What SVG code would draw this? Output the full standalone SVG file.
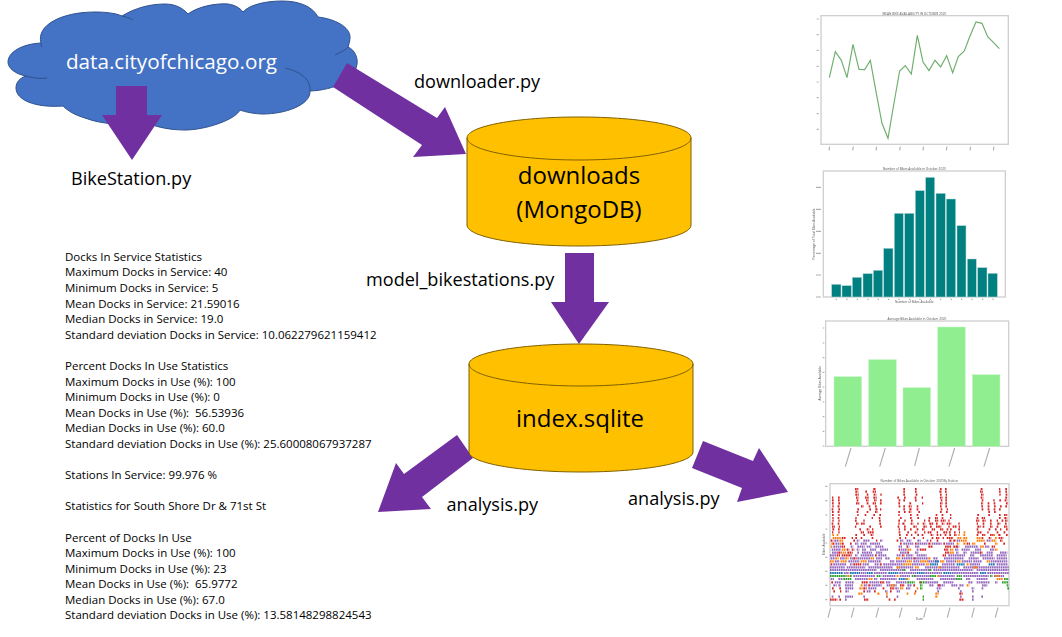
<svg xmlns="http://www.w3.org/2000/svg" width="1062" height="637" viewBox="0 0 1062 637">
<defs>
<filter id="soft" x="-5%" y="-5%" width="110%" height="110%"><feGaussianBlur stdDeviation="2.2"/></filter>
</defs>
<style>
text{font-family:"Open Sans","Noto Sans",sans-serif;fill:#000}
.b{font-size:11.5px}
.l{font-size:18.1px}
.c{font-size:24px;text-anchor:middle}
.ar{fill:#7030a0}
.cy{fill:#ffc000;stroke:#7f6000;stroke-width:1}
.fr{fill:none;stroke:#cfcfcf;stroke-width:4}
.t{font-size:9.5px;text-anchor:middle;fill:#555}
.s{stroke:#b0b0b0;stroke-width:3.5;fill:none}
.r,.p,.o,.g,.u{fill:none;stroke-width:6.5;stroke-dasharray:5 1.6}
.r{stroke:#d62728}.p{stroke:#9467bd}.o{stroke:#ff7f0e}.g{stroke:#2ca02c}.u{stroke:#1f77b4}
</style>
<rect width="1062" height="637" fill="#fff"/>
<g id="cloud">
<path d="M41 43C36 25 62 12 95 12C105 12 115 13 122 16C135 8 150 4 165 4C175 4 183 8 188 14C197 7 215 3 228 4C235 5 240 8 243 12C250 4 268 1 282 1C300 1 313 7 318 17C335 19 350 27 350 37C350 41 349 44 348 47C355 50 358 58 357 64C355 80 335 90 310 91C311 105 285 114 263 114C255 114 245 112 240 110C235 120 205 130 185 130C170 130 157 127 150 124C125 126 100 124 85 118C75 115 68 111 63 106C35 108 16 100 16 88C16 82 20 78 26 76C15 74 8 68 8 62C8 52 22 44 41 43Z" fill="#4472c4" stroke="#2f528f" stroke-width="1"/>
<path d="M122 16C126 17 130 18 133 20M26 76C32 78 40 79 47 78M285 68C298 71 311 78 310 91M335 55C341 52 346 50 348 47M41 43C41 44 41 46 42 47" fill="none" stroke="#2f528f" stroke-width="1"/>
<text x="171.5" y="69" text-anchor="middle" style="font-size:20.7px;fill:#fff">data.cityofchicago.org</text>
</g>
<g id="connectors">
<polygon class="ar" points="116,86 147,86 147,115 162,115 132,160 102,115 116,115"/>
<polygon class="ar" points="347,63 437,118 445,107 466,154 413,157 422,145 333,87"/>
<polygon class="ar" points="565,253 594,253 594,302 609,302 579,344 551,302 565,302"/>
<polygon class="ar" points="457,435 473,458 422,497 431,509 378,512 396,463 404,474"/>
<polygon class="ar" points="703,441 753,461 759,448 788,492 737,502 742,488 692,468"/>
</g>
<g id="downloads">
<path class="cy" d="M467 138C467 126 517 117 579 117C641 117 691 126 691 138V225C691 237 641 246 579 246C517 246 467 237 467 225Z"/>
<path class="cy" style="fill:none" d="M467 138C467 150 517 160 579 160C641 160 691 150 691 138"/>
<text class="c" x="579" y="184">downloads</text>
<text class="c" x="579" y="218">(MongoDB)</text>
</g>
<g id="sqlite">
<path class="cy" d="M469 364C469 353 519 344 581 344C643 344 693 353 693 364V452C693 463 643 472 581 472C519 472 469 463 469 452Z"/>
<path class="cy" style="fill:none" d="M469 364C469 376 519 386 581 386C643 386 693 376 693 364"/>
<text class="c" x="580" y="427">index.sqlite</text>
</g>
<g id="labels">
<text class="l" x="71" y="185">BikeStation.py</text>
<text class="l" x="414" y="88">downloader.py</text>
<text class="l" x="366" y="286">model_bikestations.py</text>
<text class="l" x="446.5" y="511">analysis.py</text>
<text class="l" x="628" y="505">analysis.py</text>
</g>
<g id="stats">
<text class="b" x="65" y="261">Docks In Service Statistics</text>
<text class="b" x="65" y="276">Maximum Docks in Service: 40</text>
<text class="b" x="65" y="292">Minimum Docks in Service: 5</text>
<text class="b" x="65" y="308">Mean Docks in Service: 21.59016</text>
<text class="b" x="65" y="323">Median Docks in Service: 19.0</text>
<text class="b" x="65" y="339">Standard deviation Docks in Service: 10.062279621159412</text>
<text class="b" x="65" y="370">Percent Docks In Use Statistics</text>
<text class="b" x="65" y="386">Maximum Docks in Use (%): 100</text>
<text class="b" x="65" y="401">Minimum Docks in Use (%): 0</text>
<text class="b" x="65" y="417" xml:space="preserve">Mean Docks in Use (%):  56.53936</text>
<text class="b" x="65" y="432">Median Docks in Use (%): 60.0</text>
<text class="b" x="65" y="448">Standard deviation Docks in Use (%): 25.60008067937287</text>
<text class="b" x="65" y="479">Stations In Service: 99.976 %</text>
<text class="b" x="65" y="510">Statistics for South Shore Dr &amp; 71st St</text>
<text class="b" x="65" y="542">Percent of Docks In Use</text>
<text class="b" x="65" y="557">Maximum Docks in Use (%): 100</text>
<text class="b" x="65" y="573">Minimum Docks in Use (%): 23</text>
<text class="b" x="65" y="588" xml:space="preserve">Mean Docks in Use (%):  65.9772</text>
<text class="b" x="65" y="604">Median Docks in Use (%): 67.0</text>
<text class="b" x="65" y="619">Standard deviation Docks in Use (%): 13.58148298824543</text>
</g>
<g id="chart-line" transform="translate(800,0) scale(.3333)" filter="url(#soft)">
<rect class="fr" x="63" y="47" width="562" height="386"/>
<text class="t" x="343" y="45">MEAN BIKE AVAILABILITY IN OCTOBER 2020</text>
<polyline fill="none" stroke="#6fae6f" stroke-width="3.5" points="88,233 106,155 124,181 141,233 159,133 177,208 194,209 211,181 229,280 246,370 264,415 281,315 299,213 316,197 334,222 352,106 369,186 387,212 405,181 422,201 440,167 458,218 475,170 493,153 510,108 528,66 546,70 563,110 581,128 598,146"/>
<path class="s" d="M50 57h6M50 104h6M50 151h6M50 199h6M50 246h6M50 293h6M50 341h6M50 388h6M89 440l-2 11M160 440l-2 11M230 440l-2 11M301 440l-2 11M371 440l-2 11M441 440l-2 11M512 440l-2 11M582 440l-2 11"/>
</g>
<g id="chart-hist" transform="translate(800,160) scale(.3333)" filter="url(#soft)">
<rect class="fr" x="70" y="33" width="546" height="378"/>
<text class="t" x="343" y="29">Number of Bikes Available in October 2020</text>
<g fill="#008080" stroke="#b5d8d8" stroke-width="1.5">
<rect x="95" y="373" width="28" height="38"/><rect x="126" y="377" width="28" height="34"/><rect x="157" y="352" width="28" height="59"/><rect x="189" y="341" width="28" height="70"/><rect x="220" y="331" width="28" height="80"/><rect x="251" y="265" width="28" height="146"/><rect x="283" y="160" width="27" height="251"/><rect x="314" y="160" width="28" height="251"/><rect x="346" y="92" width="27" height="319"/><rect x="377" y="52" width="27" height="359"/><rect x="408" y="100" width="28" height="311"/><rect x="439" y="117" width="28" height="294"/><rect x="471" y="197" width="27" height="214"/><rect x="502" y="297" width="27" height="114"/><rect x="533" y="323" width="28" height="88"/><rect x="564" y="340" width="28" height="71"/>
</g>
<path class="s" d="M48 82h15M48 148h15M48 214h15M48 280h15M48 345h15M48 411h15M107 418h4M139 418h4M170 418h4M202 418h4M233 418h4M264 418h4M295 418h4M327 418h4M358 418h4M389 418h4M420 418h4M452 418h4M483 418h4M514 418h4M546 418h4M577 418h4"/>
<text class="t" x="343" y="430">Number of Bikes Available</text>
<text class="t" transform="translate(45,222) rotate(-90)">Percentage of Total Bikes Available</text>
</g>
<g id="chart-bars" transform="translate(800,310) scale(.3333)" filter="url(#soft)">
<rect class="fr" x="77" y="33" width="549" height="376"/>
<text class="t" x="351" y="30">Average Bikes Available in October 2020</text>
<g fill="#90ee90" stroke="#c8f7c8" stroke-width="1.5">
<rect x="102" y="200" width="83" height="209"/><rect x="206" y="149" width="83" height="260"/><rect x="309" y="233" width="83" height="176"/><rect x="413" y="51" width="83" height="358"/><rect x="517" y="194" width="83" height="215"/>
</g>
<path class="s" d="M68 54h5M68 99h5M68 143h5M68 187h5M68 231h5M68 276h5M68 320h5M68 364h5M68 408h5M153 414l-17 56M256 414l-17 56M358 414l-14 54M464 414l-17 56M569 414l-17 56"/>
<text class="t" transform="translate(62,220) rotate(-90)">Average Bikes Available</text>
</g>
<g id="chart-scatter" transform="translate(800,475) scale(.3333)" filter="url(#soft)">
<rect class="fr" x="90" y="26" width="537" height="366"/>
<text class="t" x="358" y="22">Number of Bikes Available in October 2020By Station</text>
<path class="s" d="M76 34h6M76 77h6M76 120h6M76 162h6M76 204h6M76 247h6M76 289h6M76 331h6M76 374h6M92 398l-8 30M162 398l-8 30M236 398l-8 30M306 398l-8 30M379 398l-8 30M450 398l-8 30M523 398l-8 30M594 398l-8 30"/>
<text class="t" x="358" y="436">Date</text>
<text class="t" transform="translate(76,208) rotate(-90)">Bikes Available</text>
<g>
<path class="r" d="M165 42h10M220 42h8M310 42h5M345 42h6M420 42h6M435 42h5M542 42h7M597 42h4M616 42h6"/>
<path class="r" d="M166 50h9M196 50h6M218 50h10M310 50h6M345 50h6M418 50h8M435 50h5M540 50h9M597 50h5M616 50h6"/>
<path class="r" d="M166 59h10M200 59h6M221 59h8M241 59h4M310 59h5M347 59h5M420 59h6M437 59h4M543 59h8M598 59h4M617 59h5"/>
<path class="r" d="M96 68h4M114 68h5M168 68h8M195 68h11M220 68h10M292 68h6M312 68h5M344 68h7M365 68h4M420 68h8M436 68h5M542 68h8M616 68h7"/>
<path class="r" d="M96 76h5M114 76h6M170 76h6M198 76h8M222 76h8M240 76h5M296 76h5M310 76h6M345 76h5M422 76h6M436 76h5M545 76h5M580 76h4M598 76h5M614 76h8"/>
<path class="r" d="M96 85h5M115 85h6M168 85h10M200 85h7M218 85h10M240 85h5M295 85h5M328 85h7M366 85h4M420 85h8M436 85h5M543 85h7M563 85h6M581 85h5M618 85h6"/>
<path class="r" d="M97 94h4M113 94h7M183 94h8M206 94h5M225 94h5M296 94h5M310 94h6M326 94h9M350 94h5M420 94h5M436 94h5M544 94h6M563 94h7M582 94h6M600 94h5M616 94h6"/>
<path class="r" d="M95 103h6M115 103h6M172 103h5M208 103h6M226 103h8M240 103h4M310 103h6M328 103h8M350 103h5M422 103h5M440 103h4M545 103h6M563 103h7M581 103h6M597 103h5"/>
<path class="r" d="M96 111h5M113 111h7M170 111h5M200 111h5M225 111h8M295 111h5M312 111h6M326 111h8M355 111h5M420 111h5M438 111h6M565 111h6M582 111h7"/>
<path class="r" d="M96 120h5M115 120h4M172 120h4M194 120h5M220 120h6M238 120h5M295 120h4M330 120h6M350 120h5M407 120h6M425 120h5M450 120h4M532 120h6M565 120h5M597 120h6M612 120h10"/>
<path class="r" d="M97 129h4M113 129h6M166 129h4M215 129h4M236 129h6M300 129h6M330 129h5M352 129h6M386 129h5M405 129h9M425 129h6M450 129h4M530 129h6M545 129h10M597 129h5M613 129h9"/>
<path class="r" d="M97 137h4M115 137h4M165 137h5M190 137h4M237 137h6M295 137h5M313 137h4M333 137h5M372 137h4M385 137h6M405 137h10M422 137h15M445 137h4M528 137h10M547 137h10M570 137h6M590 137h4M605 137h5M615 137h8"/>
<path class="r" d="M95 146h6M113 146h6M168 146h8M183 146h11M238 146h6M295 146h4M307 146h8M332 146h8M352 146h4M368 146h8M388 146h12M408 146h6M425 146h8M440 146h14M475 146h4M530 146h4M548 146h6M570 146h6M592 146h9M615 146h6"/>
<path class="r" d="M96 155h9M116 155h4M165 155h4M208 155h6M240 155h6M293 155h5M312 155h5M340 155h10M370 155h10M390 155h6M408 155h16M445 155h4M458 155h12M476 155h4M532 155h10M548 155h5M570 155h8M590 155h5M612 155h10"/>
<path class="r" d="M97 163h7M114 163h6M178 163h6M200 163h8M216 163h4M296 163h4M312 163h5M330 163h5M350 163h6M366 163h8M395 163h10M420 163h10M440 163h5M450 163h6M475 163h5M530 163h6M566 163h5M585 163h6M600 163h4M618 163h5"/>
<path class="r" d="M96 172h4M115 172h4M182 172h10M203 172h18M296 172h6M322 172h5M344 172h8M372 172h4M383 172h12M410 172h4M430 172h12M447 172h5M462 172h6M477 172h3M532 172h14M562 172h4M590 172h5M611 172h5"/>
<path class="o" d="M97 180h5M110 180h6M491 172h5M475 180h4M490 180h7M580 180h5"/>
<path class="r" d="M166 180h6M190 180h6M212 180h8M297 180h5M318 180h5M333 180h4M352 180h5M365 180h6M392 180h8M410 180h5M420 180h4M434 180h6M448 180h6M462 180h8M530 180h5M546 180h10M570 180h10M595 180h8M618 180h6"/>
<path class="o" d="M98 189h24M472 189h12M490 189h12M530 189h14M585 189h6"/>
<path class="r" d="M125 189h12M155 189h4M166 189h6M182 189h5M215 189h5M298 189h6M315 189h4M340 189h6M368 189h4M395 189h6M408 189h10M428 189h4M440 189h20M545 189h6M566 189h8M596 189h14"/>
<path class="r" d="M92 197h8M160 197h6M228 197h4M290 197h6M390 197h4M410 197h5M448 197h8M460 197h8M600 197h8"/>
<path class="p" d="M103 197h14M170 197h8M190 197h20M240 197h8M300 197h10M320 197h14M352 197h10M380 197h6M470 197h10M560 197h14"/>
<path class="o" d="M118 197h12M482 197h20M530 197h24M575 197h14"/>
<path class="r" d="M98 206h6M126 206h6M150 206h6M300 206h6M345 206h6M385 206h8M430 206h6M500 206h10M552 206h5M610 206h6"/>
<path class="p" d="M106 206h14M165 206h10M182 206h18M210 206h30M310 206h30M352 206h30M395 206h30M438 206h24"/>
<path class="o" d="M94 206h6M120 206h6M470 206h8M490 206h8M516 206h10M585 206h8"/>
<path class="p" d="M100 215h24M152 215h8M172 215h22M200 215h14M226 215h24M296 215h10M320 215h8M345 215h14M470 215h8M495 215h40M555 215h14"/>
<path class="r" d="M125 215h10M155 224h8M296 224h4M320 215h3M385 215h14M435 215h18M460 215h14M575 215h10"/>
<path class="o" d="M92 215h6M540 215h12"/>
<path class="p" d="M95 224h28M170 224h8M186 224h12M210 224h20M240 224h24M302 224h18M350 224h8M465 224h10M485 224h24M525 224h20M570 224h14"/>
<path class="o" d="M125 224h12M322 224h12M585 224h8M450 224h10"/>
<path class="r" d="M140 224h8M360 224h20M432 224h14"/>
<path class="p" d="M96 233h18M172 233h6M186 233h30M228 233h20M300 233h22M345 233h10M468 233h8M490 233h10M512 233h30M560 233h20M600 233h22"/>
<path class="r" d="M115 233h10M142 233h16M322 233h6M435 233h14M540 233h8"/>
<path class="o" d="M128 233h10M450 233h12"/>
<path class="p" d="M90 241h18M165 241h8M182 241h40M235 241h24M290 241h14M318 241h22M350 241h30M445 241h50M510 241h14M540 241h40M590 241h30"/>
<path class="r" d="M110 241h10M125 241h30M225 241h6M306 241h8M428 241h10"/>
<path class="p" d="M92 250h14M120 250h16M150 250h10M172 250h40M228 250h18M256 250h14M305 250h34M345 250h40M400 250h14M432 250h60M506 250h30M548 250h36M590 250h32"/>
<path class="o" d="M106 250h10M136 250h10M212 250h10M288 250h14M385 250h8"/>
<path class="r" d="M160 250h10M340 250h5"/>
<path class="o" d="M90 259h14M122 259h20M182 259h18M320 259h16M360 259h24M420 259h14M470 259h14M560 259h10"/>
<path class="p" d="M105 259h14M145 259h34M204 259h40M270 259h14M288 259h30M340 259h18M385 259h30M438 259h30M486 259h30M520 259h26M572 259h50"/>
<path class="u" d="M405 259h12"/>
<path class="r" d="M92 268h6M160 268h24M240 268h6"/>
<path class="p" d="M100 268h40M150 268h8M188 268h20M224 268h14M250 268h60M336 268h40M426 268h40M510 268h30M590 268h34"/>
<path class="o" d="M310 268h24M378 268h10M500 268h8"/>
<path class="u" d="M390 268h24M470 268h24M566 268h20"/>
<path class="p" d="M90 277h44M140 277h56M205 277h74M290 277h50M375 277h40M420 277h60M490 277h136"/>
<path class="o" d="M290 277h10M345 277h12M415 277h8M520 277h14"/>
<path class="p" d="M90 285h140M240 285h70M330 285h60M400 285h120M530 285h96"/>
<path class="g" d="M310 285h8M388 285h8"/>
<path class="u" d="M90 294h40M150 294h30M200 294h20M265 294h30M350 294h24M430 294h24M540 294h20"/>
<path class="p" d="M132 294h16M182 294h16M222 294h40M298 294h50M376 294h50M456 294h80M562 294h64"/>
<path class="g" d="M90 303h50M150 303h6M230 303h14M335 303h10M390 303h20M470 303h16M570 303h8"/>
<path class="p" d="M160 303h66M248 303h40M300 303h30M345 303h44M414 303h50M490 303h76M582 303h30"/>
<path class="o" d="M142 303h8M290 303h8M412 303h6M585 303h14"/>
<path class="p" d="M92 312h10M115 312h14M165 312h40M222 312h10M240 312h50M350 312h50M420 312h50M498 312h14M530 312h34"/>
<path class="u" d="M296 312h24"/>
<path class="g" d="M130 312h24M468 312h18M612 312h14"/>
<path class="o" d="M206 312h12M320 312h8M590 312h18"/>
<path class="r" d="M94 322h6M185 322h20M240 322h14M358 322h6"/>
<path class="p" d="M104 322h20M136 322h26M208 322h30M258 322h14M288 322h34M376 322h40M430 322h30M505 322h14M530 322h40M585 322h8"/>
<path class="g" d="M322 322h22M362 322h14M606 322h20"/>
<path class="p" d="M100 331h10M115 331h8M135 331h24M192 331h10M215 331h30M260 331h30M322 331h14M388 331h14M412 331h22M454 331h18M478 331h14M546 331h16"/>
<path class="o" d="M182 331h8M272 331h14M500 331h8"/>
<path class="r" d="M205 331h8M300 331h14M340 331h6M415 331h6"/>
<path class="g" d="M360 331h8M620 331h6"/>
<path class="r" d="M96 340h6M118 340h5M190 340h10M248 340h5M270 340h14"/>
<path class="p" d="M136 340h24M205 340h24M286 340h10M318 340h14M410 340h14M474 340h6M515 340h8M545 340h5"/>
<path class="o" d="M178 340h10M300 340h10M350 340h6"/>
<path class="g" d="M360 340h8M622 340h5"/>
<path class="o" d="M175 356h14M232 356h8M258 356h6M320 356h6M342 356h6M406 356h10"/>
<path class="p" d="M136 349h10M200 349h12M255 349h8M290 349h10M412 349h6M480 349h6M516 349h5"/>
<path class="r" d="M100 349h5M120 349h4M190 349h6M222 349h6M270 349h5M478 356h10M345 349h4"/>
<path class="p" d="M95 365h5M115 365h5M135 365h24M190 365h5M258 365h6M290 365h6M480 365h5M516 365h6M544 365h6"/>
<path class="g" d="M368 365h4"/>
<path class="o" d="M406 365h8M260 365h3"/>
<path class="r" d="M90 374h22M118 374h6M192 374h14M266 374h6M282 374h6M478 374h14"/>
<path class="g" d="M368 374h4"/>
<path class="p" d="M135 374h6M516 374h5"/>
</g>
</g>
</svg>
